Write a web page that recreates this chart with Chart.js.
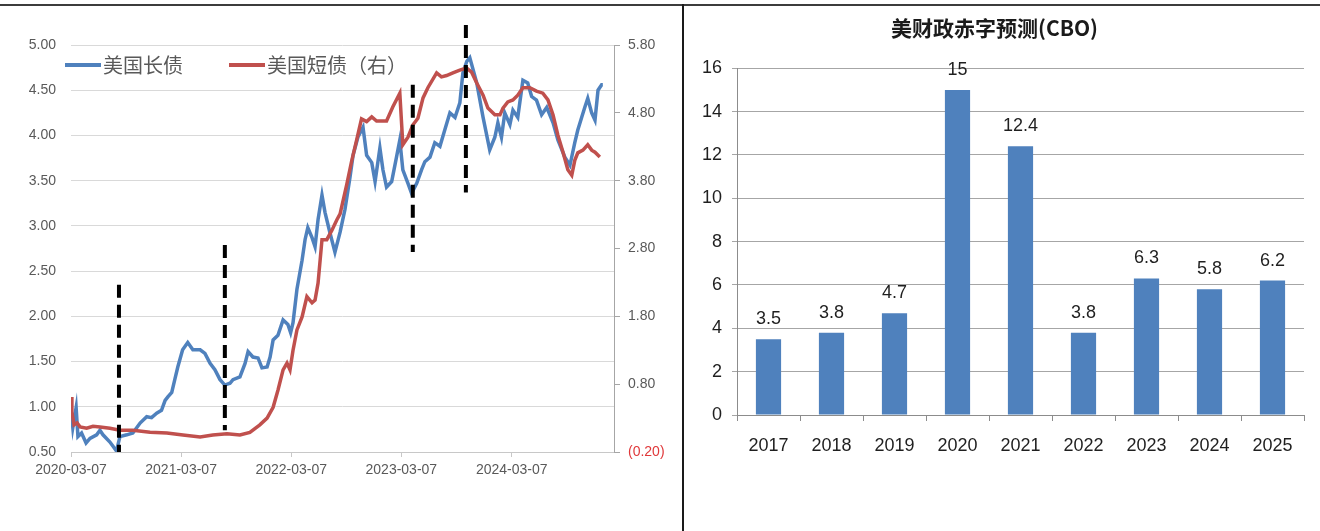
<!DOCTYPE html>
<html lang="zh">
<head>
<meta charset="UTF-8">
<title>美国长短债收益率与美财政赤字预测</title>
<script src="https://cdn.jsdelivr.net/npm/chart.js"></script>
<style>
    body { margin: 0; background: #fff; width: 1320px; height: 531px; overflow: hidden; position: relative; }
    #rateChart { position: absolute; left: 0; top: 0; }
    #deficitChart { position: absolute; left: 685px; top: 0; }
    .rule-top { position: absolute; left: 0; top: 4px; width: 1320px; height: 2px; background: #3c3c3c; }
    .rule-mid { position: absolute; left: 682px; top: 4px; width: 2px; height: 527px; background: #1a1a1a; }
</style>
</head>
<body>
<canvas id="rateChart" width="680" height="531"></canvas>
<canvas id="deficitChart" width="635" height="531"></canvas>
<div class="rule-top"></div>
<div class="rule-mid"></div>

<script>
    // ---- left chart: US long / short bond yields ----
    const startDate = '2020-03-07';
    const endDate = '2025-02-09';
    const xTickLabels = ['2020-03-07', '2021-03-07', '2022-03-07', '2023-03-07', '2024-03-07'];
    const leftTicks = [0.5, 1.0, 1.5, 2.0, 2.5, 3.0, 3.5, 4.0, 4.5, 5.0];
    const rightTicks = [-0.2, 0.8, 1.8, 2.8, 3.8, 4.8, 5.8];

    const longDates = [
        '2020-03-07','2020-03-13','2020-03-24','2020-03-30','2020-04-11','2020-04-26','2020-05-09','2020-05-31','2020-06-11','2020-06-21',
        '2020-07-14','2020-08-05','2020-08-16','2020-09-08','2020-09-28','2020-10-22','2020-11-13','2020-11-29','2020-12-16',
        '2021-01-01','2021-01-13','2021-01-22','2021-02-04','2021-02-14','2021-02-24','2021-03-12','2021-03-29','2021-04-15','2021-05-09',
        '2021-05-25','2021-06-11','2021-06-27','2021-07-14','2021-07-30','2021-08-16','2021-08-26','2021-09-18','2021-10-05','2021-10-15',
        '2021-10-31','2021-11-17','2021-11-30','2021-12-17','2021-12-27',
        '2022-01-06','2022-01-22','2022-02-08','2022-02-24','2022-03-05','2022-03-13','2022-03-26','2022-04-12','2022-04-22','2022-05-01',
        '2022-05-15','2022-05-25','2022-06-04','2022-06-17','2022-06-27','2022-07-13','2022-07-30','2022-08-16','2022-09-01','2022-09-18',
        '2022-09-28','2022-10-14','2022-10-31','2022-11-12','2022-11-29','2022-12-10','2022-12-26',
        '2023-01-05','2023-01-17','2023-02-03','2023-02-19','2023-03-02','2023-03-12','2023-03-29','2023-04-10','2023-04-27','2023-05-13',
        '2023-05-24','2023-06-10','2023-06-26','2023-07-13','2023-07-29','2023-08-15','2023-09-01','2023-09-17','2023-09-27','2023-10-10',
        '2023-10-20','2023-11-12','2023-12-03','2023-12-25',
        '2024-01-11','2024-01-21','2024-02-02','2024-02-13','2024-03-01','2024-03-11','2024-03-27','2024-04-13','2024-04-29','2024-05-12',
        '2024-05-28','2024-06-14','2024-07-01','2024-07-22','2024-08-07','2024-08-30','2024-09-16','2024-10-02','2024-10-12','2024-10-25',
        '2024-11-04','2024-11-14','2024-11-27','2024-12-08','2024-12-18','2024-12-30','2025-01-03'
    ];
    const longYield = [
        0.98, 0.77, 0.99, 0.67, 0.71, 0.60, 0.65, 0.69, 0.74, 0.69,
        0.61, 0.51, 0.67, 0.69, 0.71, 0.82, 0.89, 0.88, 0.93,
        0.96, 1.07, 1.11, 1.16, 1.30, 1.44, 1.63, 1.71, 1.63, 1.63,
        1.59, 1.48, 1.41, 1.30, 1.24, 1.26, 1.30, 1.33, 1.48, 1.61,
        1.55, 1.54, 1.43, 1.44, 1.55,
        1.74, 1.79, 1.96, 1.91, 1.82, 1.93, 2.30, 2.62, 2.85, 2.98,
        2.87, 2.77, 3.07, 3.34, 3.15, 2.93, 2.71, 2.93, 3.18, 3.54,
        3.78, 3.98, 4.09, 3.78, 3.70, 3.49, 3.86,
        3.62, 3.43, 3.49, 3.76, 3.95, 3.62, 3.47, 3.36, 3.47, 3.62,
        3.71, 3.76, 3.92, 3.88, 4.06, 4.25, 4.20, 4.36, 4.69, 4.82,
        4.86, 4.58, 4.20, 3.84,
        3.98, 4.14, 3.98, 4.25, 4.12, 4.28, 4.20, 4.61, 4.58, 4.43,
        4.39, 4.23, 4.31, 4.14, 3.95, 3.76, 3.67, 3.92, 4.06, 4.20,
        4.31, 4.41, 4.25, 4.17, 4.50, 4.56, 4.56
    ];

    const shortDates = [
        '2020-03-07','2020-03-10','2020-03-17','2020-03-27','2020-04-06','2020-04-28','2020-05-19','2020-06-11','2020-07-14','2020-08-16',
        '2020-09-28','2020-11-24',
        '2021-01-19','2021-03-13','2021-05-09','2021-06-20','2021-08-06','2021-09-18','2021-10-21','2021-11-23','2021-12-17',
        '2022-01-06','2022-01-22','2022-02-08','2022-02-21','2022-03-03','2022-03-13','2022-03-26','2022-04-12','2022-04-28','2022-05-15',
        '2022-05-25','2022-06-04','2022-06-17','2022-07-03','2022-07-20','2022-08-05','2022-08-16','2022-09-07','2022-09-23','2022-10-10',
        '2022-10-26','2022-11-12','2022-11-29','2022-12-15',
        '2023-01-01','2023-01-17','2023-02-07','2023-03-02','2023-03-12','2023-03-29','2023-04-14','2023-05-01','2023-05-18','2023-06-03',
        '2023-07-02','2023-07-18','2023-08-04','2023-08-25','2023-09-17','2023-10-09','2023-10-26','2023-11-12','2023-12-03','2023-12-19',
        '2024-01-11','2024-01-28','2024-02-07','2024-02-23','2024-03-11','2024-03-27','2024-04-13','2024-05-06','2024-05-28','2024-06-18',
        '2024-07-05','2024-07-22','2024-08-07','2024-08-24','2024-09-09','2024-09-22','2024-10-02','2024-10-12','2024-10-29','2024-11-14',
        '2024-11-27','2024-12-08','2024-12-24'
    ];
    const shortYield = [
        0.61, 0.39, 0.20, 0.23, 0.17, 0.15, 0.18, 0.17, 0.15, 0.12,
        0.12, 0.09,
        0.08, 0.05, 0.02, 0.05, 0.07, 0.05, 0.09, 0.20, 0.30,
        0.46, 0.71, 1.01, 1.11, 1.01, 1.30, 1.60, 1.79, 2.09, 2.00,
        2.04, 2.29, 2.93, 2.93, 3.07, 3.22, 3.31, 3.74, 4.08, 4.40,
        4.71, 4.67, 4.74, 4.68,
        4.68, 4.68, 4.89, 5.09, 4.33, 4.44, 4.62, 4.72, 5.02, 5.17,
        5.39, 5.33, 5.35, 5.39, 5.43, 5.46, 5.40, 5.24, 5.06, 4.87,
        4.77, 4.77, 4.87, 4.96, 4.99, 5.06, 5.17, 5.17, 5.12, 5.09,
        4.99, 4.77, 4.47, 4.22, 3.96, 3.88, 4.10, 4.21, 4.25, 4.33,
        4.25, 4.22, 4.15
    ];

    // dashed vertical markers (left-axis value ranges)
    const markerDates = ['2020-08-13', '2021-07-30', '2023-04-14', '2023-10-07'];
    const markerTop = [2.35, 2.79, 4.56, 5.22];
    const markerBottom = [0.50, 0.74, 2.71, 3.37];

    // ---- right chart: CBO deficit forecast ----
    const deficitYears = ['2017', '2018', '2019', '2020', '2021', '2022', '2023', '2024', '2025'];
    const deficitValues = [3.5, 3.8, 4.7, 15, 12.4, 3.8, 6.3, 5.8, 6.2];
    const deficitTicks = [0, 2, 4, 6, 8, 10, 12, 14, 16];

    const dayOf = s => (Date.parse(s) - Date.parse(startDate)) / 86400000;
    const toPoints = (dates, vals) => dates.map((d, i) => ({ x: dayOf(d), y: vals[i] }));

    const latin = '"Liberation Sans", Arial, sans-serif';
    const cjk = '"Noto Sans CJK SC", "Noto Sans", sans-serif';

    const markerPlugin = {
        id: 'markers',
        afterDatasetsDraw(chart) {
            const { ctx, scales } = chart;
            ctx.save();
            ctx.strokeStyle = '#000';
            ctx.lineWidth = 4;
            ctx.setLineDash([13, 7]);
            markerDates.forEach((d, i) => {
                const x = scales.x.getPixelForValue(dayOf(d));
                ctx.beginPath();
                ctx.moveTo(x, scales.y.getPixelForValue(markerTop[i]));
                ctx.lineTo(x, scales.y.getPixelForValue(markerBottom[i]));
                ctx.stroke();
            });
            ctx.restore();
        }
    };

    const lineLegend = {
        id: 'lineLegend',
        afterDraw(chart) {
            const { ctx, chartArea } = chart;
            const spots = [chartArea.left - 6, chartArea.left + 158];
            const y = chartArea.top + 20;
            ctx.save();
            ctx.font = '20px ' + cjk;
            ctx.textBaseline = 'middle';
            chart.data.datasets.forEach((ds, i) => {
                ctx.strokeStyle = ds.borderColor;
                ctx.lineWidth = 4;
                ctx.beginPath();
                ctx.moveTo(spots[i], y);
                ctx.lineTo(spots[i] + 36, y);
                ctx.stroke();
                ctx.fillStyle = '#595959';
                ctx.fillText(ds.label, spots[i] + 38, y);
            });
            ctx.restore();
        }
    };

    new Chart(document.getElementById('rateChart'), {
        type: 'line',
        data: {
            datasets: [
                {
                    label: '美国长债',
                    data: toPoints(longDates, longYield),
                    borderColor: '#4f81bd',
                    borderWidth: 3.5,
                    pointRadius: 0,
                    yAxisID: 'y',
                    order: 2
                },
                {
                    label: '美国短债（右）',
                    data: toPoints(shortDates, shortYield),
                    borderColor: '#c0504d',
                    borderWidth: 3.5,
                    pointRadius: 0,
                    yAxisID: 'y1',
                    order: 1
                }
            ]
        },
        options: {
            responsive: false,
            animation: false,
            layout: { padding: { top: 45 } },
            plugins: { legend: { display: false }, tooltip: { enabled: false } },
            scales: {
                x: {
                    type: 'linear',
                    min: 0,
                    max: dayOf(endDate),
                    afterBuildTicks: s => { s.ticks = xTickLabels.map(d => ({ value: dayOf(d) })); },
                    afterFit: s => { s.height = 79; },
                    border: { color: '#c8c8c8' },
                    grid: { drawOnChartArea: false, tickLength: 5, color: '#c8c8c8' },
                    ticks: {
                        autoSkip: false, maxRotation: 0, padding: 5,
                        color: '#595959', font: { family: latin, size: 14 },
                        callback: (v, i) => xTickLabels[i]
                    }
                },
                y: {
                    position: 'left',
                    min: 0.5,
                    max: 5.0,
                    afterBuildTicks: s => { s.ticks = leftTicks.map(v => ({ value: v })); },
                    afterFit: s => { s.width = 71; },
                    border: { display: false },
                    grid: { color: '#d9d9d9', drawTicks: false },
                    ticks: {
                        padding: 15, color: '#595959', font: { family: latin, size: 14 },
                        callback: v => v.toFixed(2)
                    }
                },
                y1: {
                    position: 'right',
                    min: -0.2,
                    max: 5.8,
                    afterBuildTicks: s => { s.ticks = rightTicks.map(v => ({ value: v })); },
                    afterFit: s => { s.width = 66; },
                    border: { color: '#a6a6a6' },
                    grid: { drawOnChartArea: false, tickLength: 6, color: '#a6a6a6' },
                    ticks: {
                        padding: 8, font: { family: latin, size: 14 },
                        color: c => c.tick.value < 0 ? '#e0383a' : '#595959',
                        callback: v => v < 0 ? '(' + Math.abs(v).toFixed(2) + ')' : v.toFixed(2)
                    }
                }
            }
        },
        plugins: [markerPlugin, lineLegend]
    });

    const barLabels = {
        id: 'barLabels',
        afterDatasetsDraw(chart) {
            const { ctx } = chart;
            const meta = chart.getDatasetMeta(0);
            ctx.save();
            ctx.font = '18px ' + latin;
            ctx.fillStyle = '#1f1f1f';
            ctx.textAlign = 'center';
            ctx.textBaseline = 'middle';
            meta.data.forEach((bar, i) => {
                ctx.fillText(String(deficitValues[i]), bar.x, bar.y - 20);
            });
            ctx.restore();
        }
    };

    new Chart(document.getElementById('deficitChart'), {
        type: 'bar',
        data: {
            labels: deficitYears,
            datasets: [{
                data: deficitValues,
                backgroundColor: '#4f81bd',
                barPercentage: 0.4,
                categoryPercentage: 1.0
            }]
        },
        options: {
            responsive: false,
            animation: false,
            layout: { padding: { right: 16 } },
            plugins: {
                legend: { display: false },
                tooltip: { enabled: false },
                title: {
                    display: true,
                    text: '美财政赤字预测(CBO)',
                    color: '#1a1a1a',
                    font: { family: cjk, size: 21, weight: 'bold' },
                    padding: { top: 15, bottom: 28 }
                }
            },
            scales: {
                x: {
                    afterFit: s => { s.height = 116; },
                    border: { color: '#8c8c8c' },
                    grid: { drawOnChartArea: false, tickLength: 6, color: '#8c8c8c' },
                    ticks: { padding: 14, color: '#1f1f1f', font: { family: latin, size: 18 } }
                },
                y: {
                    min: 0,
                    max: 16,
                    afterBuildTicks: s => { s.ticks = deficitTicks.map(v => ({ value: v })); },
                    afterFit: s => { s.width = 52; },
                    border: { color: '#8c8c8c' },
                    grid: { color: '#a6a6a6', tickLength: 5 },
                    ticks: { padding: 10, color: '#1f1f1f', font: { family: latin, size: 18 } }
                }
            }
        },
        plugins: [barLabels]
    });
</script>
</body>
</html>
